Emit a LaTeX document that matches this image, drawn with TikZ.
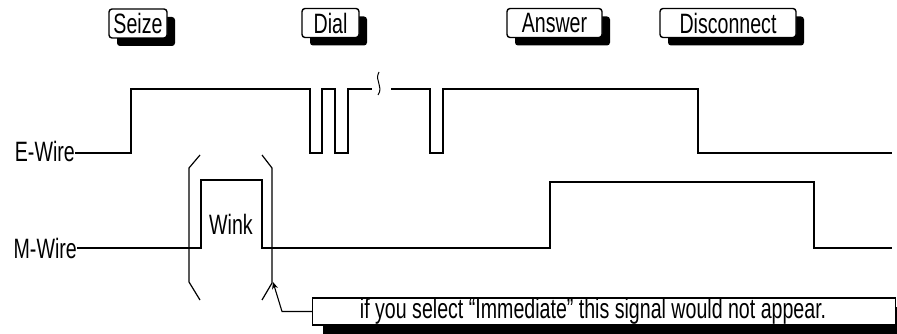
\documentclass[tikz,border=0pt]{standalone}
\usepackage{fontspec}
\setmainfont{Liberation Sans}[FakeStretch=0.7]
\newcommand{\sigfont}{\fontsize{28}{30}\selectfont}
\usetikzlibrary{arrows.meta,shadows}

\begin{document}
\begin{tikzpicture}[x=1pt,y=-1pt,
  btn/.style={draw,fill=white,rounded corners=3pt,line width=1.4pt,minimum height=29pt,inner sep=0pt,font=\sigfont,
    drop shadow={shadow xshift=8pt,shadow yshift=-8pt,fill=black,opacity=1}},
  note/.style={draw,fill=white,line width=1.2pt,minimum height=27pt,inner sep=0pt,font=\sigfont,
    drop shadow={shadow xshift=10pt,shadow yshift=-9pt,fill=black,opacity=1}},
  lbl/.style={font=\sigfont,inner sep=0pt,anchor=base east},
  wave/.style={line width=1.6pt,line join=miter},
  brk/.style={line width=1.2pt},
  arr/.style={-{Stealth[length=7pt,width=6pt]},line width=1.1pt}]
  \useasboundingbox (0,0) rectangle (897,334);
  % Events
  \node[btn,minimum width=58pt] (seize) at (138,23.5) {Seize};
  \node[btn,minimum width=57pt] (dial) at (330.5,23) {Dial};
  \node[btn,minimum width=95pt] (answer) at (554.5,23) {Answer};
  \node[btn,minimum width=136pt] (disc) at (728,23) {Disconnect};
  % E-Wire
  \node[lbl] (ewire) at (75,161) {E-Wire};
  \draw[wave] (ewire.east |- 0,153) -- (131,153) -- (131,89) -- (310,89) -- (310,153) -- (322,153) -- (322,89)
    -- (335,89) -- (335,153) -- (348,153) -- (348,89) -- (372,89);
  \draw[wave] (391,89) -- (430,89) -- (430,153) -- (443,153) -- (443,89) -- (698,89) -- (698,153) -- (892,153);
  \draw[line width=1pt] (379,72) .. controls (374,81) and (384,86) .. (378,95);
  % M-Wire
  \node[lbl] (mwire) at (77,258) {M-Wire};
  \draw[wave] (mwire.east |- 0,248) -- (201,248) -- (201,180) -- (262,180) -- (262,248) -- (550,248) -- (550,182)
    -- (814,182) -- (814,248) -- (892,248);
  \node[font=\sigfont,inner sep=0pt] (wink) at (231,224) {Wink};
  % Wink brackets
  \draw[brk] (200,155) -- (189,168) -- (189,282) -- (200,300);
  \draw[brk] (262,155) -- (272,168) -- (272,283) -- (262,300);
  % Note
  \node[note,anchor=west,minimum width=583pt] (note) at (312,311.5) {if you select “Immediate” this signal would not appear.\hspace*{22pt}};
  \coordinate (tip) at (273,282);
  \draw[arr] (note.west) -- ++(-30,0) -- (tip);
\end{tikzpicture}
\end{document}
